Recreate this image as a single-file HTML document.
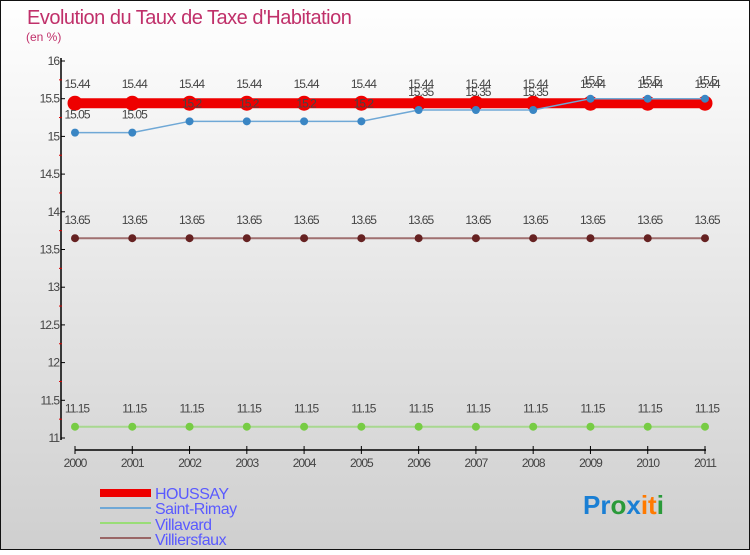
<!DOCTYPE html>
<html><head><meta charset="utf-8"><style>
body{margin:0;width:750px;height:550px;overflow:hidden;font-family:"Liberation Sans",sans-serif}
svg text{font-family:"Liberation Sans",sans-serif}
</style></head><body>
<svg id="chart" width="750" height="550">
<defs><linearGradient id="bg" x1="0" y1="0" x2="0" y2="1"><stop offset="0" stop-color="#ffffff"/><stop offset="1" stop-color="#cfcfcf"/></linearGradient></defs>
<rect x="0.5" y="0.5" width="749" height="549" fill="url(#bg)" stroke="#111"/>
<text x="27" y="24" font-size="20" fill="#c0306a" letter-spacing="-0.5">Evolution du Taux de Taxe d'Habitation</text>
<text x="26" y="41" font-size="12" fill="#c0306a">(en %)</text>
<g id="axes"></g><g id="series"></g>
<g>
<rect x="100" y="489" width="51" height="8" fill="#ee0000"/>
<text x="155" y="499" font-size="16" fill="#5a5aff" letter-spacing="-0.5">HOUSSAY</text>
<line x1="100" y1="508" x2="151" y2="508" stroke="#6fa8d6" stroke-width="2"/>
<text x="155" y="514" font-size="16" fill="#5a5aff" letter-spacing="-0.5">Saint-Rimay</text>
<line x1="100" y1="523" x2="151" y2="523" stroke="#99dd77" stroke-width="2"/>
<text x="155" y="530" font-size="16" fill="#5a5aff" letter-spacing="-0.5">Villavard</text>
<line x1="100" y1="538" x2="151" y2="538" stroke="#996666" stroke-width="2"/>
<text x="155" y="545" font-size="16" fill="#5a5aff" letter-spacing="-0.5">Villiersfaux</text>
</g>
<text x="583" y="514" font-size="26" font-weight="bold"><tspan fill="#1a7fd4">Pr</tspan><tspan fill="#2a9a3a">o</tspan><tspan fill="#1a7fd4">x</tspan><tspan fill="#ff7a00">it</tspan><tspan fill="#2a9a3a">i</tspan></text>
</svg>
<script>
const years=[2000,2001,2002,2003,2004,2005,2006,2007,2008,2009,2010,2011];
const houssay=[15.44,15.44,15.44,15.44,15.44,15.44,15.44,15.44,15.44,15.44,15.44,15.44];
const saintRimay=[15.05,15.05,15.2,15.2,15.2,15.2,15.35,15.35,15.35,15.5,15.5,15.5];
const villavard=[11.15,11.15,11.15,11.15,11.15,11.15,11.15,11.15,11.15,11.15,11.15,11.15];
const villiersfaux=[13.65,13.65,13.65,13.65,13.65,13.65,13.65,13.65,13.65,13.65,13.65,13.65];
const yTicks=[11,11.5,12,12.5,13,13.5,14,14.5,15,15.5,16];
const NS="http://www.w3.org/2000/svg";
const x=i=>75+i*(705-75)/(years.length-1);
const y=v=>438-(v-11)*(438-61)/5;
function mk(t,a,p){const e=document.createElementNS(NS,t);for(const k in a)e.setAttribute(k,a[k]);p.appendChild(e);return e;}
const ax=document.getElementById('axes');
const yl=mk('line',{x1:61,y1:58,x2:61,y2:440,stroke:'#000','stroke-width':1.5},ax);


const xl=mk('line',{x1:75,y1:450,x2:706,y2:450,stroke:'#000','stroke-width':1.5},ax);


yTicks.forEach(v=>{
 mk('line',{x1:61,y1:y(v),x2:65,y2:y(v),stroke:'#000'},ax);
 if(v<16) mk('line',{x1:59,y1:y(v+0.25),x2:62,y2:y(v+0.25),stroke:'#dd0000'},ax);
 const t=mk('text',{x:59,y:y(v)+4,'font-size':12,fill:'#444','text-anchor':'end','letter-spacing':'-1'},ax);
 t.textContent=String(v);
 
 
});
years.forEach((yr,i)=>{
 mk('line',{x1:x(i),y1:446,x2:x(i),y2:454,stroke:'#000'},ax);
 const t=mk('text',{x:x(i),y:467,'font-size':12,fill:'#444','text-anchor':'middle','letter-spacing':'-1'},ax);
 t.textContent=yr;
 
 
});
const sg=document.getElementById('series');
function series(name,vals,color,w,r,dot,labelOff){
 const g=mk('g',{},sg);
 
 
 mk('polyline',{points:vals.map((v,i)=>x(i)+','+y(v)).join(' '),fill:'none',stroke:color,'stroke-width':w},g);
 vals.forEach((v,i)=>{
  const c=mk('circle',{cx:x(i),cy:y(v),r:r,fill:dot},g);
  
  
  const t=mk('text',{x:x(i)+2,y:y(v)-labelOff,'font-size':12,fill:'#444','text-anchor':'middle','letter-spacing':'-1'},g);
  t.textContent=String(v);
  
  
 });
}
series('villavard',villavard,'#a8d890',2,4,'#77cc44',14);
series('villiersfaux',villiersfaux,'#a07070',2,4,'#662222',14);
series('houssay',houssay,'#ee0000',10,7.5,'#ee0000',15);
series('saint-rimay',saintRimay,'#6fa8d6',1.5,4,'#3a86c4',14);
</script>
</body></html>
